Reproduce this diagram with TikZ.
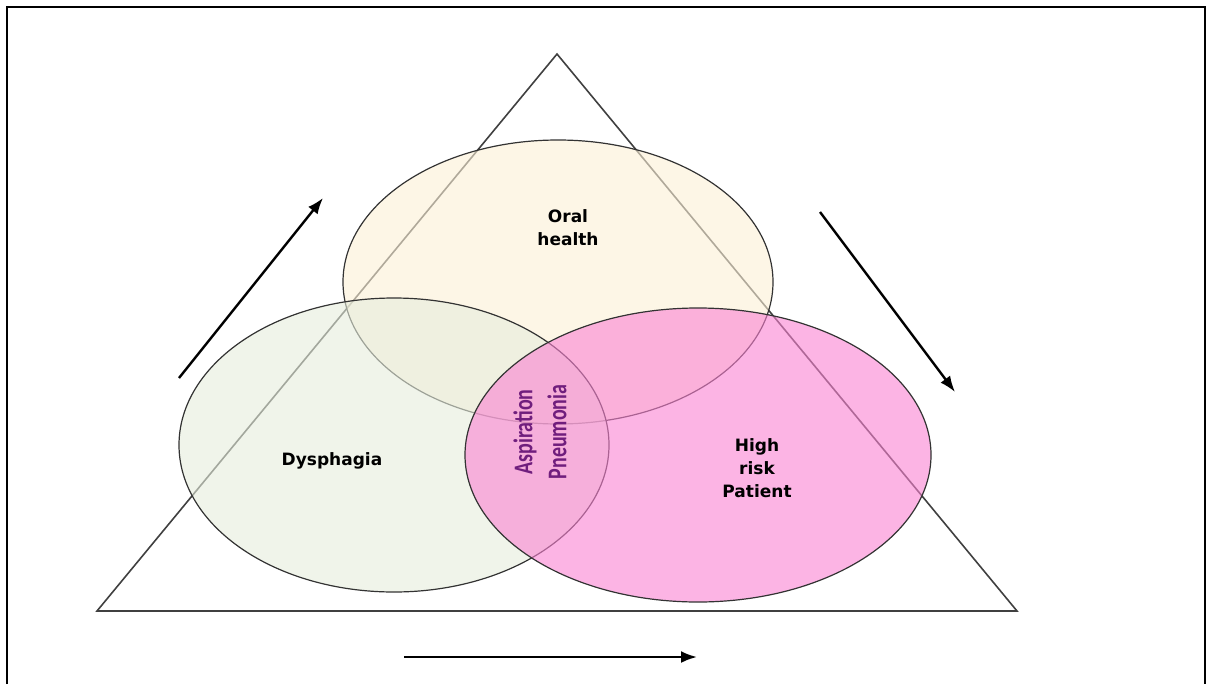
\documentclass[tikz,border=0pt]{standalone}
\usepackage{fontspec}
\usepackage{graphicx}
\usetikzlibrary{shapes.geometric,arrows.meta}

\newfontfamily\boxfont{DejaVu Sans}
\newfontfamily\pnfont{Carlito}

\definecolor{oralfill}{RGB}{252,240,214}
\definecolor{dysfill}{RGB}{230,237,220}
\definecolor{riskfill}{RGB}{250,130,210}
\definecolor{pnpurple}{RGB}{112,30,125}

\tikzset{
  zone/.style={ellipse, draw=black!80, line width=0.6pt, fill opacity=0.6, inner sep=0pt},
  lbl/.style={font=\boxfont\bfseries\fontsize{8.5}{11.5}\selectfont, align=center, text=black},
  trend/.style={-{Latex[length=8pt,width=6pt]}, line width=1.2pt},
}

\begin{document}
\begin{tikzpicture}[x=0.5pt,y=-0.5pt]
    \useasboundingbox (0,0) rectangle (1213,684);
    \draw[line width=1pt] (7,684) -- (7,7) -- (1205,7) -- (1205,684);

    % triangle
    \coordinate (apex) at (557,54);
    \coordinate (baseL) at (97,611);
    \coordinate (baseR) at (1017,611);
    \draw[black!75, line width=0.8pt] (apex) -- (baseR) -- (baseL) -- cycle;

    % the three zones
    \node[zone, fill=oralfill, minimum width=215pt, minimum height=142pt] (oral) at (558,282) {};
    \node[zone, fill=dysfill, minimum width=215pt, minimum height=147pt] (dys) at (394,445) {};
    \node[zone, fill=riskfill, minimum width=233pt, minimum height=147pt] (risk) at (698,455) {};

    \node[lbl] (oraltxt) at (568,228) {Oral\\health};
    \node[lbl] (dystxt) at (332,461) {Dysphagia};
    \node[lbl] (risktxt) at (757,468) {High\\risk\\Patient};
    \node[rotate=90, align=center, text=pnpurple,
          font=\pnfont\bfseries\fontsize{13.5}{17}\selectfont] (pneu) at (540,432)
        {\scalebox{0.74}[1]{Aspiration}\\\scalebox{0.74}[1]{Pneumonia}};

    % arrows
    \coordinate (upA) at (179,378);
    \coordinate (upB) at (323,198);
    \coordinate (downA) at (820,212);
    \coordinate (downB) at (955,392);
    \coordinate (baseA) at (404,657);
    \coordinate (baseB) at (697,657);
    \draw[trend] (upA) -- (upB);
    \draw[trend] (downA) -- (downB);
    \draw[trend] (baseA) -- (baseB);
\end{tikzpicture}
\end{document}
